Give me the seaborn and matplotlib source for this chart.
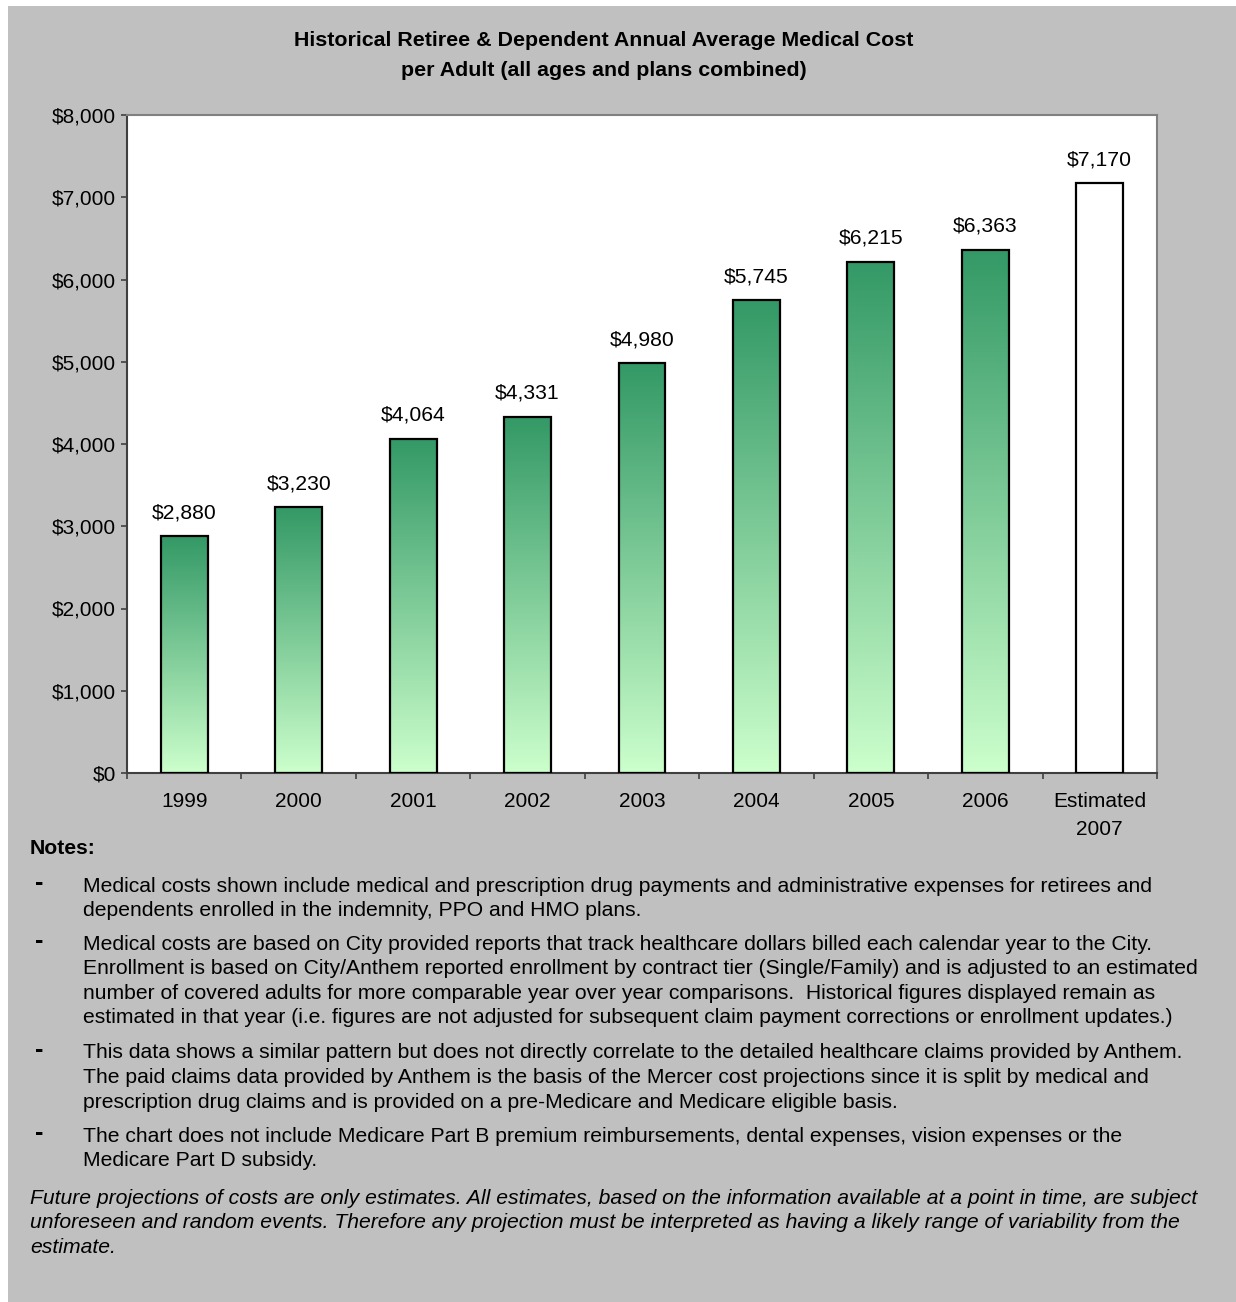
import numpy as np
import pandas as pd
import matplotlib
matplotlib.use("Agg")
import matplotlib.pyplot as plt
import seaborn as sns
from matplotlib.colors import LinearSegmentedColormap
from matplotlib.patches import Rectangle

# ---- data ----
years = ["1999", "2000", "2001", "2002", "2003", "2004", "2005", "2006", "Estimated\n2007"]
costs = [2880, 3230, 4064, 4331, 4980, 5745, 6215, 6363, 7170]
is_estimate = [False, False, False, False, False, False, False, False, True]
ytick_values = list(range(0, 8001, 1000))

title_lines = ["Historical Retiree & Dependent Annual Average Medical Cost",
               "per Adult (all ages and plans combined)"]

notes = [
    ["Medical costs shown include medical and prescription drug payments and administrative expenses for retirees and",
     "dependents enrolled in the indemnity, PPO and HMO plans."],
    ["Medical costs are based on City provided reports that track healthcare dollars billed each calendar year to the City.",
     "Enrollment is based on City/Anthem reported enrollment by contract tier (Single/Family) and is adjusted to an estimated",
     "number of covered adults for more comparable year over year comparisons.  Historical figures displayed remain as",
     "estimated in that year (i.e. figures are not adjusted for subsequent claim payment corrections or enrollment updates.)"],
    ["This data shows a similar pattern but does not directly correlate to the detailed healthcare claims provided by Anthem.",
     "The paid claims data provided by Anthem is the basis of the Mercer cost projections since it is split by medical and",
     "prescription drug claims and is provided on a pre-Medicare and Medicare eligible basis."],
    ["The chart does not include Medicare Part B premium reimbursements, dental expenses, vision expenses or the",
     "Medicare Part D subsidy."],
]
disclaimer = [
    "Future projections of costs are only estimates. All estimates, based on the information available at a point in time, are subject",
    "unforeseen and random events. Therefore any projection must be interpreted as having a likely range of variability from the",
    "estimate.",
]

# ---- style ----
sns.set_theme(style="white")
plt.rcParams['font.family'] = ['Liberation Sans', 'DejaVu Sans']

W, H = 1236, 1302
fig = plt.figure(figsize=(W / 100, H / 100), dpi=100)
fig.patch.set_facecolor('white')
fig.patches.append(Rectangle((8 / W, 0), 1, 1 - 6 / H, transform=fig.transFigure,
                             facecolor='#C0C0C0', edgecolor='none', zorder=-10))

ax = fig.add_axes([127 / W, 1 - 773 / H, 1030 / W, 658 / H])
ax.set_facecolor('white')

df = pd.DataFrame({"year": years, "cost": costs})
sns.barplot(data=df, x="year", y="cost", ax=ax, width=0.41, color='white',
            saturation=1, edgecolor='black', linewidth=1.6, zorder=3)

# vertical two-tone gradient inside each historical bar
cmap = LinearSegmentedColormap.from_list("seagreen_fade", ["#339966", "#CCFFCC"])
grad = np.linspace(0, 1, 256).reshape(-1, 1)
for patch, est in zip(ax.patches, is_estimate):
    if est:
        patch.set_facecolor('white')
        continue
    patch.set_facecolor('none')
    x0 = patch.get_x()
    x1 = x0 + patch.get_width()
    h = patch.get_height()
    im = ax.imshow(grad, extent=(x0, x1, 0, h), origin='upper', aspect='auto',
                   cmap=cmap, zorder=2)
    im.set_clip_path(patch)

# value labels
for i, v in enumerate(costs):
    ax.annotate(f"${v:,}", (i, v), xytext=(0, 17), textcoords='offset points',
                ha='center', va='center', fontsize=15.2, color='black')

ax.set_xlim(-0.5, len(years) - 0.5)
ax.set_ylim(0, 8000)
ax.set_yticks(ytick_values)
ax.set_yticklabels([f"${v:,}" for v in ytick_values])
ax.set_xlabel("")
ax.set_ylabel("")

ax.set_xticks(np.arange(len(years)))
ax.set_xticklabels(years)
ax.set_xticks(np.arange(-0.5, len(years), 1), minor=True)
ax.tick_params(axis='x', which='major', length=0, pad=14, labelsize=15, labelcolor='black')
ax.tick_params(axis='x', which='minor', length=4, width=1.2, direction='out',
               color='#404040', bottom=True)
ax.tick_params(axis='y', which='major', length=4, width=1.2, direction='out',
               color='#404040', left=True, pad=4, labelsize=15, labelcolor='black')
for lbl in ax.get_xticklabels():
    lbl.set_linespacing(1.55)
    lbl.set_verticalalignment('top')

for side in ['top', 'right']:
    ax.spines[side].set_color('#808080')
    ax.spines[side].set_linewidth(1.5)
for side in ['left', 'bottom']:
    ax.spines[side].set_color('#404040')
    ax.spines[side].set_linewidth(1.5)

# title
fig.text(604 / W, 1 - 41 / H, title_lines[0], ha='center', va='center',
         fontsize=15.4, fontweight='bold', color='black')
fig.text(604 / W, 1 - 70 / H, title_lines[1], ha='center', va='center',
         fontsize=15.4, fontweight='bold', color='black')

# notes
body = 15.2
fig.text(30 / W, 1 - 848 / H, "Notes:", ha='left', va='center',
         fontsize=body, fontweight='bold', color='black')
note_starts = [886, 944, 1053, 1136]
step = 24.6
for start, lines in zip(note_starts, notes):
    fig.text(35 / W, 1 - (start + 4) / H, "-", ha='left', va='baseline',
             fontsize=18, fontweight='bold', color='black')
    for k, line in enumerate(lines):
        fig.text(83 / W, 1 - (start + k * step) / H, line, ha='left', va='center',
                 fontsize=body, color='black')

for k, line in enumerate(disclaimer):
    fig.text(30 / W, 1 - (1198 + k * step) / H, line, ha='left', va='center',
             fontsize=body, style='italic', color='black')

fig.savefig("out.png", dpi=100, facecolor=fig.get_facecolor())
